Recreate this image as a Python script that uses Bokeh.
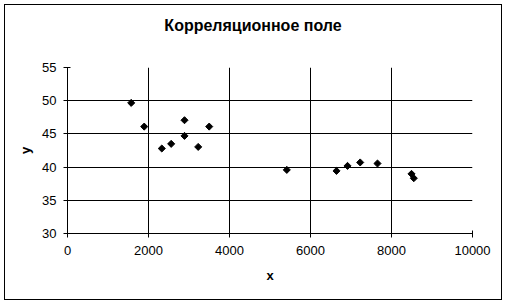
import math
from bokeh.plotting import figure
from bokeh.layouts import column
from bokeh.models import Range1d, FixedTicker, ColumnDataSource, Div
from bokeh.embed import file_html
from bokeh.resources import INLINE

x_vals = [1573, 1894, 2328, 2560, 2889, 2889, 3227, 3499, 5415, 6642, 6914, 7227, 7654, 8494, 8551]
y_vals = [49.67, 46.1, 42.8, 43.5, 47.06, 44.7, 43.04, 46.1, 39.58, 39.43, 40.18, 40.7, 40.54, 38.98, 38.33]
x_ticks = [0, 2000, 4000, 6000, 8000, 10000]
y_ticks = [30, 35, 40, 45, 50, 55]
title_text = "Корреляционное поле"
x_label = "x"
y_label = "y"

FONT = "Liberation Sans"

title_div = Div(text=title_text, width=496, height=40, margin=0,
                styles={"font-family": FONT, "font-size": "16px", "font-weight": "bold",
                        "color": "black", "text-align": "center", "line-height": "18px",
                        "padding-top": "12px", "box-sizing": "border-box",
                        "background-color": "white"})

p = figure(width=496, height=254, output_backend="svg", toolbar_location=None,
           x_range=Range1d(0, 10000), y_range=Range1d(30, 55),
           min_border_left=62, min_border_right=29, min_border_top=22, min_border_bottom=66)
p.margin = 0
p.outline_line_color = None
p.background_fill_color = "white"
p.border_fill_color = "white"

for ax in (p.xaxis[0], p.yaxis[0]):
    ax.axis_line_color = "black"
    ax.axis_line_width = 1
    ax.major_tick_line_color = "black"
    ax.major_tick_in = 3
    ax.major_tick_out = 4
    ax.minor_tick_line_color = None
    ax.major_label_text_font = FONT
    ax.major_label_text_font_size = "13px"
    ax.major_label_text_color = "black"
    ax.axis_label_text_font = FONT
    ax.axis_label_text_font_size = "13px"
    ax.axis_label_text_font_style = "bold"
    ax.axis_label_text_color = "black"

p.xaxis.ticker = FixedTicker(ticks=x_ticks)
p.yaxis.ticker = FixedTicker(ticks=y_ticks)
p.xaxis.axis_label = x_label
p.yaxis.axis_label = y_label
p.xaxis.major_label_standoff = 8
p.yaxis.major_label_standoff = 7
p.xaxis.axis_label_standoff = 10
p.yaxis.axis_label_standoff = 6

p.xgrid.ticker = FixedTicker(ticks=[t for t in x_ticks if 0 < t < 10000])
p.ygrid.ticker = FixedTicker(ticks=[t for t in y_ticks if t > 30])
p.xgrid.grid_line_color = "black"
p.ygrid.grid_line_color = "black"
p.xgrid.grid_line_width = 1
p.ygrid.grid_line_width = 1

src = ColumnDataSource(data=dict(x=x_vals, y=y_vals))
p.scatter("x", "y", source=src, marker="square", size=5, angle=math.pi / 4,
          fill_color="black", line_color="black", line_width=1)

layout = column(title_div, p, spacing=0)
layout.styles = {"border": "1.5px solid black", "box-sizing": "content-box",
                 "background-color": "white"}
layout.margin = (4, 0, 0, 4)

open("out.html", "w").write(file_html(layout, INLINE))
